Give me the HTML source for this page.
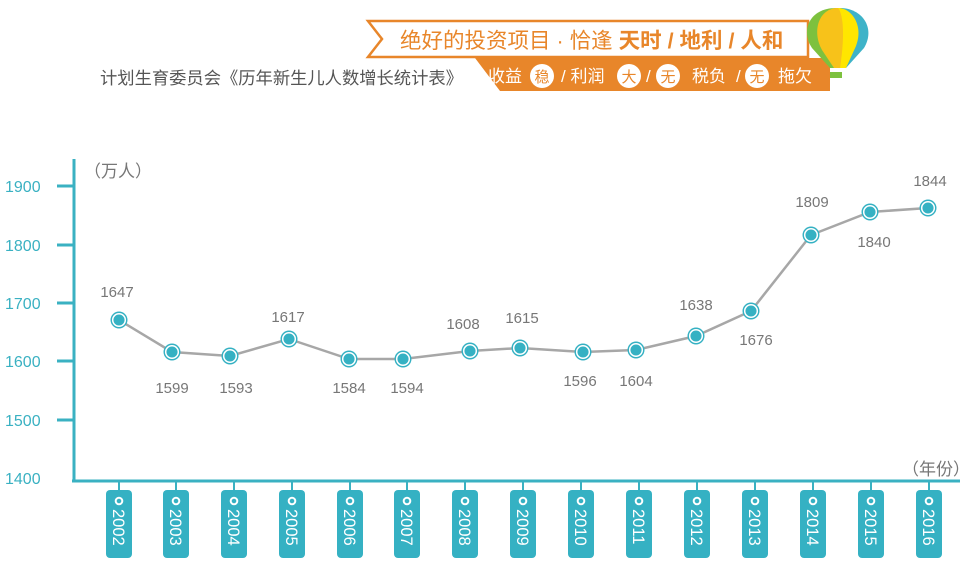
<!DOCTYPE html>
<html><head><meta charset="utf-8"><style>
body{margin:0;background:#fff;width:967px;height:566px;overflow:hidden}
svg{display:block;font-family:"Liberation Sans","Noto Sans CJK SC",sans-serif}
</style></head><body>
<svg width="967" height="566" viewBox="0 0 967 566">
<defs>
<g id="pt"><circle r="8.5" fill="#35b1c3"/><circle r="6.3" fill="#35b1c3" stroke="#fff" stroke-width="1.5"/></g>
<g id="bx"><line x1="0" y1="481" x2="0" y2="491" stroke="#3ab1c2" stroke-width="2"/><rect x="-13" y="490" width="26" height="68" rx="4" fill="#35b1c3"/><circle cx="0" cy="501" r="3.3" fill="none" stroke="#fff" stroke-width="2"/></g>
</defs>
<polygon points="368,21 808,21 808,57 368,57 382,39" fill="#fff" stroke="#e8862a" stroke-width="2.5"/>
<text x="400" y="48" font-size="21.5" fill="#e8862a">绝好的投资项目 · 恰逢 <tspan font-weight="bold">天时 / 地利 / 人和</tspan></text>
<polygon points="475,58 830,58 830,91 500,91" fill="#e8862a"/>
<g font-size="17" fill="#fff">
<text x="488" y="82">收益</text>
<text x="561" y="82">/ 利润</text>
<text x="646" y="82">/</text>
<text x="692" y="82">税负</text>
<text x="736" y="82">/</text>
<text x="778" y="82">拖欠</text>
</g>
<g fill="#fff"><circle cx="542" cy="76" r="12"/><circle cx="629" cy="76" r="12"/><circle cx="668" cy="76" r="12"/><circle cx="757" cy="76" r="12"/></g>
<g font-size="15" fill="#e8862a" text-anchor="middle">
<text x="542" y="82">稳</text><text x="629" y="82">大</text><text x="668" y="82">无</text><text x="757" y="82">无</text>
</g>
<path d="M836,8 C810,8 800,30 812,48 L830,68 L842,68 L860,48 C872,30 862,8 836,8Z" fill="#7dc13e"/>
<path d="M840,8 C825,10 820,30 826,48 L834,68 L846,68 L864,48 C876,28 862,8 840,8Z" fill="#3eb3c8"/>
<path d="M836,8 C818,10 812,32 822,50 L834,68 L840,68 L850,48 C860,28 852,8 836,8Z" fill="#f7c21a"/>
<path d="M838,8 C842,12 846,30 840,68 L846,68 L856,46 C864,26 852,8 838,8Z" fill="#ffe600"/>
<rect x="830" y="72" width="12" height="6" fill="#7dc13e"/>
<text x="100" y="84" font-size="17.3" fill="#555">计划生育委员会《历年新生儿人数增长统计表》</text>
<g stroke="#3ab1c2" stroke-width="3" fill="none">
<line x1="74" y1="159" x2="74" y2="482"/>
<line x1="72" y1="481" x2="960" y2="481"/>
<line x1="57" y1="186" x2="74" y2="186"/><line x1="57" y1="245" x2="74" y2="245"/>
<line x1="57" y1="303" x2="74" y2="303"/><line x1="57" y1="361" x2="74" y2="361"/>
<line x1="57" y1="420" x2="74" y2="420"/>
</g>
<g font-size="16" fill="#3ab1c2">
<text x="5" y="192">1900</text><text x="5" y="251">1800</text><text x="5" y="309">1700</text>
<text x="5" y="367">1600</text><text x="5" y="426">1500</text><text x="5" y="484">1400</text>
</g>
<text x="84" y="177" font-size="17" fill="#777">（万人）</text>
<text x="902" y="475" font-size="17" fill="#777">（年份）</text>
<polyline fill="none" stroke="#a7a7a7" stroke-width="2.5" points="119,320 172,352 230,356 289,339 349,359 403,359 470,351 520,348 583,352 636,350 696,336 751,311 811,235 870,212 928,208"/>
<use href="#pt" x="119" y="320"/><use href="#pt" x="172" y="352"/><use href="#pt" x="230" y="356"/>
<use href="#pt" x="289" y="339"/><use href="#pt" x="349" y="359"/><use href="#pt" x="403" y="359"/>
<use href="#pt" x="470" y="351"/><use href="#pt" x="520" y="348"/><use href="#pt" x="583" y="352"/>
<use href="#pt" x="636" y="350"/><use href="#pt" x="696" y="336"/><use href="#pt" x="751" y="311"/>
<use href="#pt" x="811" y="235"/><use href="#pt" x="870" y="212"/><use href="#pt" x="928" y="208"/>
<use href="#bx" x="119"/><use href="#bx" x="176"/><use href="#bx" x="234"/><use href="#bx" x="292"/>
<use href="#bx" x="350"/><use href="#bx" x="407"/><use href="#bx" x="465"/><use href="#bx" x="523"/>
<use href="#bx" x="581"/><use href="#bx" x="639"/><use href="#bx" x="697"/><use href="#bx" x="755"/>
<use href="#bx" x="813"/><use href="#bx" x="871"/><use href="#bx" x="929"/>
<g font-size="16.5" fill="#fff">
<text transform="translate(113,509) rotate(90)">2002</text>
<text transform="translate(170,509) rotate(90)">2003</text>
<text transform="translate(228,509) rotate(90)">2004</text>
<text transform="translate(286,509) rotate(90)">2005</text>
<text transform="translate(344,509) rotate(90)">2006</text>
<text transform="translate(401,509) rotate(90)">2007</text>
<text transform="translate(459,509) rotate(90)">2008</text>
<text transform="translate(517,509) rotate(90)">2009</text>
<text transform="translate(575,509) rotate(90)">2010</text>
<text transform="translate(633,509) rotate(90)">2011</text>
<text transform="translate(691,509) rotate(90)">2012</text>
<text transform="translate(749,509) rotate(90)">2013</text>
<text transform="translate(807,509) rotate(90)">2014</text>
<text transform="translate(865,509) rotate(90)">2015</text>
<text transform="translate(923,509) rotate(90)">2016</text>
</g>
<g font-size="15" fill="#777" text-anchor="middle">
<text x="117" y="297">1647</text><text x="172" y="393">1599</text><text x="236" y="393">1593</text>
<text x="288" y="322">1617</text><text x="349" y="393">1584</text><text x="407" y="393">1594</text>
<text x="463" y="329">1608</text><text x="522" y="323">1615</text><text x="580" y="386">1596</text>
<text x="636" y="386">1604</text><text x="696" y="310">1638</text><text x="756" y="345">1676</text>
<text x="812" y="207">1809</text><text x="874" y="247">1840</text><text x="930" y="186">1844</text>
</g>
</svg>
</body></html>
